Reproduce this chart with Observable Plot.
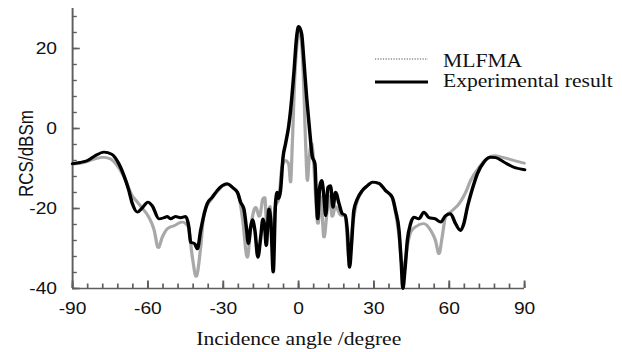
<!DOCTYPE html>
<html><head><meta charset="utf-8">
<script src="https://cdn.jsdelivr.net/npm/d3@7"></script>
<script src="https://cdn.jsdelivr.net/npm/@observablehq/plot@0.6"></script>
<style>
html,body{margin:0;padding:0;background:#fff;}
#chart{width:622px;height:352px;overflow:hidden;}
</style></head><body><div id="chart"></div>
<script>
// ---- data ----
const mlfmaAngle = [-90,-86,-82,-78,-75,-72,-69,-66.5,-64.2,-62,-60,-57.5,-55.9,-54.3,-52.3,-49.6,-46.3,-44,-42.3,-40.8,-39,-37.7,-34.5,-32,-30,-28,-26,-24,-22.4,-20.4,-19.1,-17.1,-15.6,-14.2,-13.5,-12.5,-11.4,-10.5,-9.4,-7.8,-6.6,-5.2,-3.9,-3.2,-2.5,-1.5,-0.5,0,1.2,1.9,2.8,3.5,4.2,5.2,6.1,6.9,7.7,8.8,10.1,11.4,12.3,13.4,14.7,16.7,18.6,20,21.4,22.7,24.5,27,29.5,32,34.6,37.3,38.6,40,41.5,42.5,43.3,44.6,47.3,49.9,52.6,54.5,55.9,57.2,58.5,61.2,63.9,66.5,68.5,71.2,74.5,77.8,81.8,85.7,90];
const mlfmaRcs = [-8.9,-8.6,-7.8,-7.2,-7.6,-9.5,-12.8,-16.5,-18.4,-20.1,-21.8,-25.5,-29.8,-27.2,-25.1,-24.3,-23.4,-24.5,-32.2,-37,-29.7,-21.3,-17.5,-15.5,-14.3,-14,-15,-16.5,-22.2,-32.2,-25,-19.7,-22,-17.6,-17.2,-25.9,-19.5,-28.8,-20,-17.2,-9.5,-8,-9,-13.4,-3.8,13,22,25,21,13,-3.8,-13,-7.5,-3.8,-9.5,-18.5,-23.8,-17,-27.2,-20.5,-17,-22,-19.5,-21.6,-22,-32.2,-24.8,-19.7,-16.5,-14.5,-13.5,-13.8,-15.5,-17.5,-21,-27,-35,-33,-29.5,-26,-24.3,-23.8,-25.5,-28,-31.3,-27,-22.2,-20.5,-18.8,-16,-13,-10.3,-7.8,-6.8,-7.3,-8,-8.7];
const expAngle = [-90,-87,-84,-81,-77.5,-74.5,-71.6,-69.6,-67.6,-66.2,-64.2,-62.2,-60,-58.3,-55.6,-53.6,-52.3,-51,-49,-47,-45,-43.7,-43,-41.4,-40.3,-39,-36.4,-34.4,-32.4,-30.4,-28.4,-26.4,-24.4,-23.1,-21.8,-20.8,-20,-19.1,-18.4,-17.4,-16.2,-15.1,-14.2,-13.5,-12.9,-11.8,-11,-10.1,-9.2,-8.5,-8,-7.2,-6.2,-5.2,-3.9,-3.2,-1.9,-0.8,0,1.2,2.1,3.2,4.4,5.4,6.5,7,7.6,8.4,9.2,10.1,10.8,11.7,12.7,13.7,14.7,16.1,17.4,18.5,19.4,20.3,21.1,22,23.4,25.4,27.4,29.4,32,34.6,37.3,38.6,40,40.9,41.5,42.4,43.3,44.6,45.9,47.9,49.9,51.9,54.5,56.6,58.5,60.5,62.5,64.5,65.8,67.2,69.2,71.2,73.8,76.5,78.5,81.8,85.7,90];
const expRcs = [-8.8,-8.5,-8,-6.8,-5.9,-6.4,-8.8,-11.7,-15.5,-18.8,-20.9,-19.8,-18.4,-19.3,-22.6,-22.3,-22,-22.6,-22,-22.3,-22,-24.7,-28.4,-28.8,-30.1,-25.5,-18.8,-17.2,-15.5,-14.3,-13.8,-14.7,-15.9,-18.4,-20.1,-24.7,-28.8,-24.7,-22.8,-25.5,-32.2,-27.2,-22.6,-24.5,-29.3,-20.1,-23.8,-35.9,-18.8,-15.9,-17.5,-15.5,-7.2,-3.8,0.8,4.5,13.7,22.8,25.5,23.7,17,7.8,-0.5,-6.8,-8.8,-16.3,-22.6,-14.7,-13,-17.2,-21.8,-14.7,-14.3,-19.7,-15.9,-18.8,-21.3,-21.6,-25.5,-34.7,-28.8,-20.5,-17.6,-15.5,-14.3,-13.4,-13.7,-15.5,-17.2,-20.5,-25.5,-33.8,-40,-35,-28,-23.8,-22.2,-22.6,-20.9,-22.3,-22.6,-23.4,-21.8,-21.3,-23.8,-25.5,-23.8,-19.7,-15.1,-11.3,-8.4,-7.2,-7.3,-8.4,-9.7,-10.3];
const xTicks = [-90, -60, -30, 0, 30, 60, 90];
const yTicks = [-40, -20, 0, 20];
const xMinorTicks = d3.range(-90, 91, 6);
const yMinorTicks = d3.range(-40, 29, 4);
const seriesNames = ["MLFMA", "Experimental result"];
const xLabel = "Incidence angle /degree";
const yLabel = "RCS/dBSm";

// ---- build ----
const mlfma = mlfmaAngle.map((a, i) => ({angle: a, rcs: mlfmaRcs[i]}));
const expr = expAngle.map((a, i) => ({angle: a, rcs: expRcs[i]}));

const S = 1.2;              // the reference is stretched horizontally
const W = 622, H = 352, W0 = W / S;
const mL = 60, mR = W0 - 524 / S, mT = 8, mB = 64;
const frameW = W0 - mL - mR, frameH = H - mT - mB;
const axisColor = "#5e5e5e";
const grayStroke = "#a8a8a8";
const sans = "'Liberation Sans', Arial, sans-serif";
const serif = "'Liberation Serif', 'Times New Roman', serif";
const fmt = d => String(d);

const chart = Plot.plot({
  width: W0, height: H,
  marginLeft: mL, marginRight: mR, marginTop: mT, marginBottom: mB,
  x: {domain: [-90, 90]},
  y: {domain: [-40, 30]},
  style: {fontFamily: sans, fontSize: "16px", color: "#111", background: "#fff"},
  marks: [
    Plot.tickX(xMinorTicks, {x: d => d, stroke: axisColor, strokeWidth: 1.4, insetTop: frameH - 4.5}),
    Plot.tickX(xTicks, {x: d => d, stroke: axisColor, strokeWidth: 1.6, insetTop: frameH - 7.5}),
    Plot.tickY(yMinorTicks, {y: d => d, stroke: axisColor, strokeWidth: 1.4, insetRight: frameW - 4}),
    Plot.tickY(yTicks, {y: d => d, stroke: axisColor, strokeWidth: 1.6, insetRight: frameW - 6.5}),
    Plot.axisX(xTicks, {tickSize: 0, tickPadding: 14, label: null, fill: "#111", tickFormat: fmt}),
    Plot.axisY(yTicks, {tickSize: 0, tickPadding: 13, label: null, fill: "#111", tickFormat: fmt}),
    Plot.ruleX([-90], {stroke: axisColor, strokeWidth: 1.6}),
    Plot.ruleY([-40], {stroke: axisColor, strokeWidth: 1.6}),
    Plot.line(mlfma, {x: "angle", y: "rcs", stroke: grayStroke, strokeWidth: 2.8, strokeDasharray: "1 1.2", curve: "monotone-x"}),
    Plot.line(expr, {x: "angle", y: "rcs", stroke: "#000", strokeWidth: 2.9, curve: "monotone-x"})
  ]
});

const svg = d3.select(chart);
svg.attr("width", W).attr("height", H).attr("preserveAspectRatio", "none")
   .style("width", W + "px").style("height", H + "px").style("max-width", "none");

// axis titles
svg.append("text").attr("x", 249).attr("y", 345).attr("text-anchor", "middle")
   .attr("font-family", serif).attr("font-size", 18).attr("fill", "#111").text(xLabel);
svg.append("text").attr("transform", "translate(27.5,153.5) rotate(-90)").attr("text-anchor", "middle")
   .attr("font-family", sans).attr("font-size", 17).attr("fill", "#111").text(yLabel);

// legend
const lg = svg.append("g").attr("text-anchor", "start");
const lx1 = 375 / S, lx2 = 428 / S, tx = 443 / S;
lg.append("line").attr("x1", lx1).attr("x2", lx2).attr("y1", 59).attr("y2", 59)
  .attr("stroke", grayStroke).attr("stroke-width", 2.2).attr("stroke-dasharray", "1 1.2");
lg.append("line").attr("x1", lx1).attr("x2", lx2).attr("y1", 82).attr("y2", 82)
  .attr("stroke", "#000").attr("stroke-width", 3);
lg.append("text").attr("x", tx).attr("y", 67).attr("font-family", serif).attr("font-size", 18)
  .attr("fill", "#111").text(seriesNames[0]);
lg.append("text").attr("x", tx).attr("y", 87).attr("font-family", serif).attr("font-size", 18)
  .attr("fill", "#111").text(seriesNames[1]);

document.getElementById("chart").appendChild(chart);
</script></body></html>
